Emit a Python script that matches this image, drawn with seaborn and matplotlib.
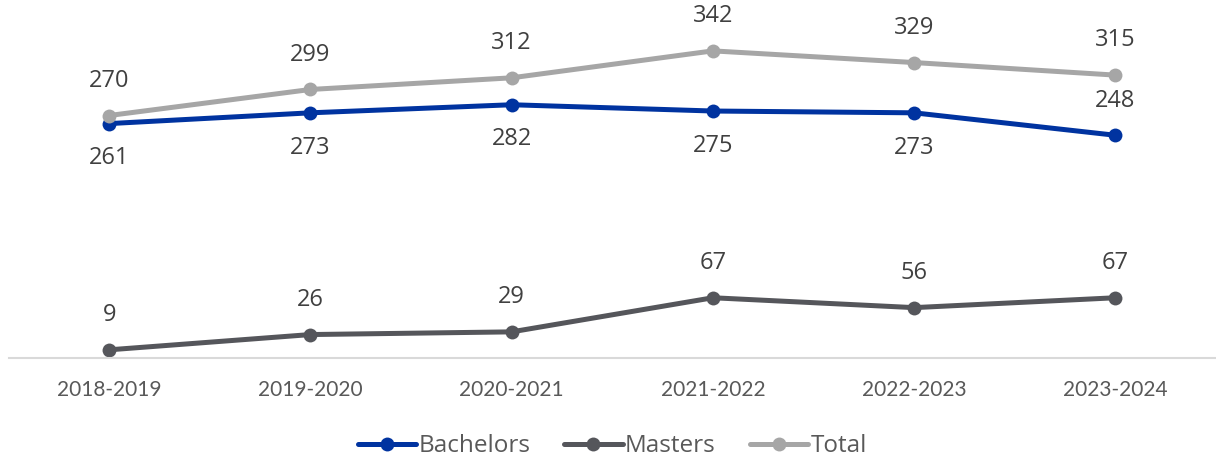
import pandas as pd
import seaborn as sns
import matplotlib.pyplot as plt

years = ["2018-2019", "2019-2020", "2020-2021", "2021-2022", "2022-2023", "2023-2024"]
bachelors = [261, 273, 282, 275, 273, 248]
masters = [9, 26, 29, 67, 56, 67]
total = [270, 299, 312, 342, 329, 315]

df = pd.DataFrame({
    "year": years * 3,
    "value": bachelors + masters + total,
    "series": ["Bachelors"] * 6 + ["Masters"] * 6 + ["Total"] * 6,
})

colors = {"Bachelors": "#0033A0", "Masters": "#55565B", "Total": "#A6A6A6"}

sns.set_style("white")
plt.rcParams['font.family'] = ['Open Sans', 'DejaVu Sans']

fig = plt.figure(figsize=(12.16, 4.63), dpi=100)
ax = fig.add_axes([0.007, 0.227, 0.993, 0.762])

sns.lineplot(data=df, x="year", y="value", hue="series", palette=colors,
             marker="o", markersize=10, markeredgewidth=0, linewidth=3.6,
             sort=False, ax=ax)

# data labels: bachelors below (except last), others above
lab = dict(textcoords="offset points", ha="center", va="center",
           fontsize=17, color="#404040")
for i, v in enumerate(total):
    ax.annotate(str(v), (i, v), xytext=(0, 25), **lab)
for i, v in enumerate(masters):
    ax.annotate(str(v), (i, v), xytext=(0, 25), **lab)
for i, v in enumerate(bachelors):
    dy = 25 if i == len(bachelors) - 1 else -25
    ax.annotate(str(v), (i, v), xytext=(0, dy), **lab)

ax.set_xlim(-0.5, 5.5)
ax.set_ylim(0, 393)
ax.set_yticks([])
ax.set_xlabel("")
ax.set_ylabel("")
for s in ["top", "right", "left"]:
    ax.spines[s].set_visible(False)
ax.spines["bottom"].set_color("#D9D9D9")
ax.spines["bottom"].set_linewidth(1.5)
ax.tick_params(axis="x", length=0, pad=16, labelsize=15, labelcolor="#595959")
for t in ax.get_xticklabels():
    t.set_fontfamily(["Lato", "DejaVu Sans"])

ax.legend(loc="center", bbox_to_anchor=(0.5, -0.25), ncol=3, frameon=False,
          fontsize=17.5, labelcolor="#595959", handlelength=2.4,
          handletextpad=0.1, columnspacing=1.4)

fig.savefig("out.png", dpi=100)
